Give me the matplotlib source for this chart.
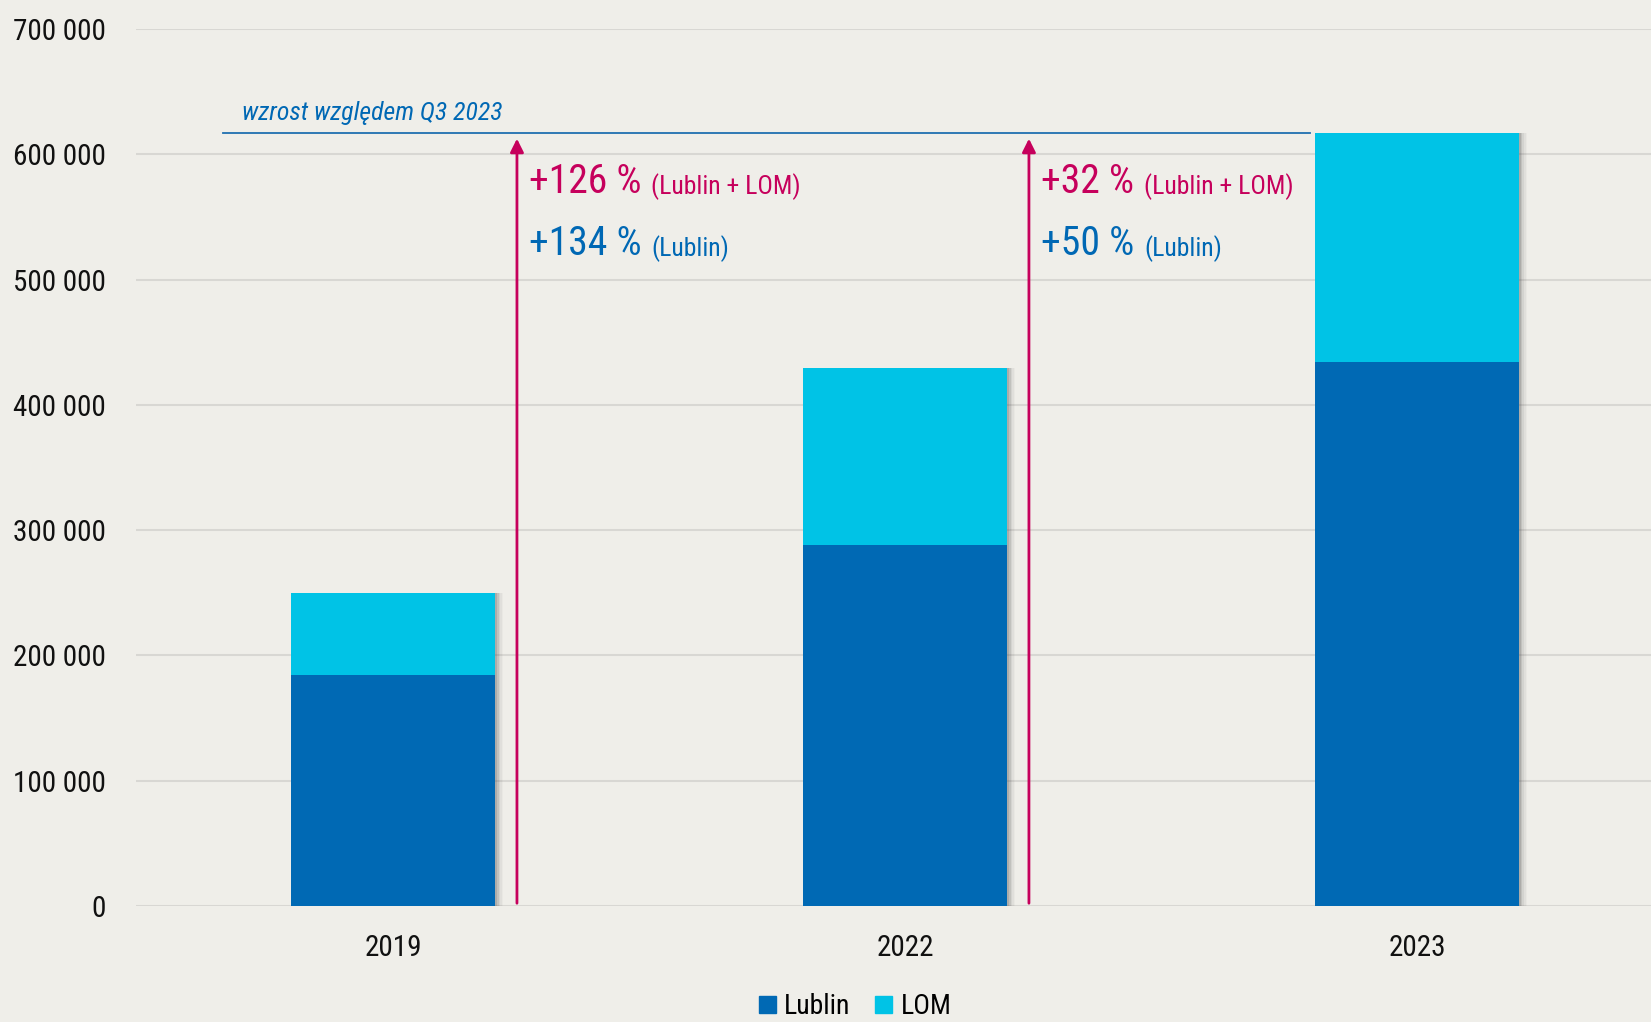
import matplotlib
matplotlib.use('Agg')
import matplotlib.pyplot as plt
from matplotlib.patches import Patch
from matplotlib import font_manager
import numpy as np

years = ['2019', '2022', '2023']
lublin = [184400, 287800, 434400]
lom = [65100, 142000, 182300]

growth_big = [['+126 %', '+134 %'], ['+32 %', '+50 %']]
growth_small = [['(Lublin + LOM)', '(Lublin)'], ['(Lublin + LOM)', '(Lublin)']]
ref_label = 'wzrost względem Q3 2023'

BG = '#EFEEE9'
C_LUBLIN = '#0069B4'
C_LOM = '#00C3E6'
MAGENTA = '#C6005C'
BLUE_TXT = '#0068B4'

# pick a narrow font if there is one
names = {f.name for f in font_manager.fontManager.ttflist}
fam = [n for n in ['Roboto Condensed', 'Liberation Sans Narrow', 'Open Sans Condensed', 'Liberation Sans'] if n in names]
plt.rcParams['font.family'] = fam + ['DejaVu Sans']

fig = plt.figure(figsize=(16.51, 10.22), dpi=100, facecolor=BG)
ax = fig.add_axes([0.0824, 0.1135, 0.9176, 0.8581])
ax.set_facecolor(BG)

x = np.arange(len(years))
total = [a + b for a, b in zip(lublin, lom)]
w = 0.40

# soft shadow to the right of each bar
for k, a in enumerate([0.16, 0.12, 0.08, 0.05, 0.03]):
    ax.bar(x + 0.003 * (k + 1), total, width=w, color='#444444', alpha=a, zorder=2, lw=0)
ax.bar(x, lublin, width=w, color=C_LUBLIN, zorder=3, lw=0)
ax.bar(x, lom, width=w, bottom=lublin, color=C_LOM, zorder=3, lw=0)

ax.set_xlim(-0.502, 2.457)
ax.set_ylim(0, 700000)
ax.set_yticks(np.arange(0, 700001, 100000))
ax.set_yticklabels([f'{int(v):,}'.replace(',', ' ') for v in np.arange(0, 700001, 100000)])
ax.set_xticks(x)
ax.set_xticklabels(years)
ax.tick_params(axis='y', length=0, pad=22, labelsize=21, labelcolor='#111111')
ax.tick_params(axis='x', length=0, pad=20, labelsize=21, labelcolor='#111111')
ax.grid(axis='y', color='#D8D7D3', lw=1.5, zorder=0)
for s in ax.spines.values():
    s.set_visible(False)

# reference line at the 2023 total
top = total[2]
ax.plot([-0.333, 1.79], [top, top], color='#1F6FB0', lw=1.3, zorder=4)
ax.text(-0.295, 627300, ref_label, color=BLUE_TXT, fontsize=18.5, style='italic', va='baseline')

arrow_x = [0.242, 1.242]
for i, ax_x in enumerate(arrow_x):
    ax.annotate('', xy=(ax_x, top - 2000), xytext=(ax_x, 0),
                arrowprops=dict(arrowstyle='-|>', color=MAGENTA, lw=2, mutation_scale=20), zorder=4)
    for j, (yv, col) in enumerate([(569000, MAGENTA), (519600, BLUE_TXT)]):
        t = ax.text(ax_x + 0.024, yv, growth_big[i][j], color=col, fontsize=28.5, va='baseline')
        ax.annotate(growth_small[i][j], xy=(1, 0), xycoords=t, xytext=(7, 1),
                    textcoords='offset points', color=col, fontsize=18.5, va='bottom')

handles = [Patch(color=C_LUBLIN), Patch(color=C_LOM)]
fig.legend(handles=handles, labels=['Lublin', 'LOM'], loc='center', bbox_to_anchor=(0.518, 0.015),
           ncol=2, frameon=False, fontsize=20, handlelength=0.6, handleheight=0.6,
           handletextpad=0.3, columnspacing=0.9)

plt.savefig('out.png', dpi=100, facecolor=BG)
